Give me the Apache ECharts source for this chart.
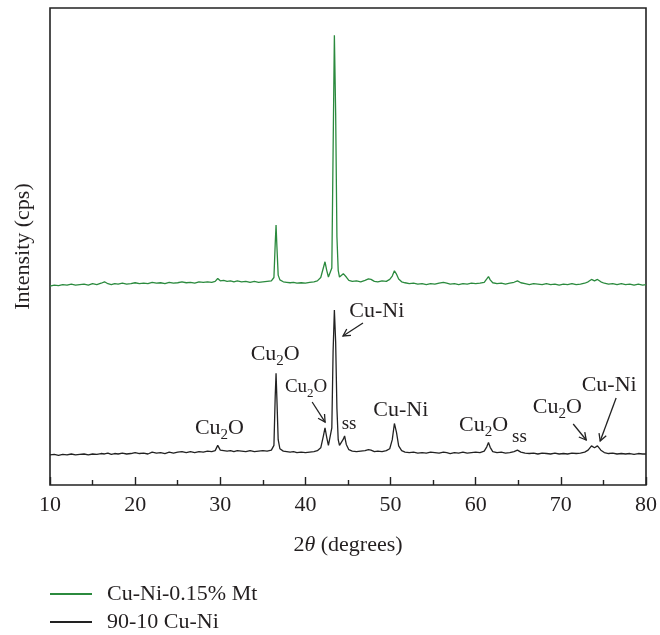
<!DOCTYPE html>
<html>
<head>
<meta charset="utf-8">
<script src="https://cdn.jsdelivr.net/npm/echarts@6/dist/echarts.min.js"></script>
<style>
html,body{margin:0;padding:0;background:#fff;}
#chart{width:660px;height:635px;}
</style>
</head>
<body>
<div id="chart"></div>
<script>
// 2θ positions (degrees)
const twoTheta = [
10.0,10.5,11.0,11.5,12.0,12.5,13.0,13.5,14.0,14.5,15.0,15.5,16.0,16.4,16.8,17.2,17.6,18.0,18.5,19.0,
19.5,20.0,20.5,21.0,21.5,22.0,22.5,23.0,23.5,24.0,24.5,25.0,25.5,26.0,26.5,27.0,27.5,28.0,28.5,29.0,
29.4,29.7,30.0,30.4,30.8,31.2,31.6,32.0,32.5,33.0,33.5,34.0,34.5,35.0,35.5,36.0,36.3,36.45,36.55,36.65,
36.8,37.0,37.4,37.8,38.2,38.6,39.0,39.5,40.0,40.5,41.0,41.4,41.8,42.1,42.3,42.5,42.7,42.9,43.1,43.25,
43.4,43.55,43.7,43.85,44.0,44.2,44.45,44.6,44.8,45.1,45.5,46.0,46.5,47.0,47.4,47.7,48.1,48.5,49.0,49.5,
49.9,50.2,50.45,50.7,50.95,51.3,51.7,52.2,52.7,53.2,53.7,54.2,54.7,55.2,55.7,56.2,56.6,57.0,57.5,58.0,
58.5,59.0,59.5,60.0,60.5,61.0,61.3,61.5,61.7,62.0,62.5,63.0,63.5,64.0,64.5,64.9,65.3,65.8,66.3,66.8,
67.3,67.8,68.3,68.8,69.3,69.8,70.3,70.8,71.3,71.8,72.3,72.8,73.2,73.6,73.95,74.3,74.7,75.1,75.6,76.1,
76.6,77.1,77.6,78.1,78.6,79.1,79.6,80.0
];
// Cu-Ni-0.15% Mt (offset trace)
const cuNiMt = [
41.7,41.9,41.8,42.0,41.9,42.1,41.9,42.0,42.1,41.9,42.2,42.0,42.3,42.6,42.2,42.0,42.2,42.1,42.3,42.1,
42.2,42.4,42.2,42.3,42.2,42.5,42.3,42.4,42.2,42.5,42.3,42.4,42.6,42.4,42.5,42.3,42.6,42.5,42.6,42.5,
42.7,43.3,42.8,42.9,42.7,42.8,42.6,42.8,42.6,42.7,42.5,42.7,42.5,42.6,42.7,42.8,43.5,50.5,54.5,50.0,
44.0,43.0,42.6,42.5,42.4,42.5,42.3,42.4,42.3,42.5,42.6,42.8,43.5,45.5,46.8,45.0,43.6,43.5,45.5,70.0,
94.3,78.0,52.0,45.0,43.6,43.4,44.3,44.7,43.6,42.9,42.7,42.8,42.6,42.9,43.2,43.1,42.7,42.6,42.8,42.7,
43.1,43.8,44.9,44.2,43.2,42.6,42.4,42.2,42.3,42.1,42.2,42.0,42.2,42.1,42.3,42.5,42.3,42.1,42.2,42.0,
42.2,42.1,42.3,42.2,42.3,42.5,43.2,43.7,43.0,42.4,42.2,42.3,42.1,42.3,42.5,42.8,42.4,42.2,42.0,42.2,
42.1,42.0,42.2,42.0,42.1,41.9,42.1,42.0,42.2,42.0,42.1,42.3,42.6,43.1,42.8,43.1,42.6,42.3,42.1,42.2,
42.0,42.2,42.0,42.1,41.9,42.1,41.9,42.0
];
// 90-10 Cu-Ni
const cuNi9010 = [
6.3,6.4,6.2,6.4,6.3,6.5,6.3,6.4,6.5,6.3,6.5,6.4,6.6,6.5,6.7,6.4,6.6,6.5,6.7,6.5,
6.6,6.8,6.6,6.7,6.5,6.9,6.7,6.8,6.6,6.9,6.7,6.9,7.0,6.8,7.0,6.8,7.0,6.9,7.1,7.0,
7.2,8.3,7.3,7.2,7.1,7.2,7.0,7.2,7.1,7.0,7.2,7.0,7.1,7.2,7.1,7.3,8.3,18.5,23.4,18.0,
9.5,7.6,7.1,7.0,6.9,7.0,6.8,6.9,6.8,6.9,7.0,7.2,7.8,10.2,12.0,10.0,8.3,8.0,12.0,28.0,
36.7,30.0,16.0,9.5,8.3,8.2,9.6,10.3,8.5,7.4,7.1,7.0,7.1,7.2,7.4,7.3,7.0,7.1,7.0,7.2,
7.6,9.5,12.9,11.0,8.2,7.2,6.9,6.8,6.9,6.7,6.8,6.7,6.9,6.8,6.7,6.9,6.8,6.6,6.8,6.7,
6.9,6.7,6.8,6.9,6.8,7.1,8.0,8.9,7.9,7.0,6.8,6.9,6.7,6.8,7.0,7.3,6.9,6.7,6.6,6.7,
6.5,6.7,6.6,6.5,6.7,6.5,6.6,6.5,6.7,6.6,6.7,6.9,7.3,8.2,7.8,8.2,7.3,6.8,6.6,6.7,
6.5,6.6,6.5,6.6,6.4,6.6,6.5,6.5
];
const seriesNames = ['Cu-Ni-0.15% Mt', '90-10 Cu-Ni'];
const xTicks = [10, 20, 30, 40, 50, 60, 70, 80];

// peak annotations, anchored in data coordinates
const labelText = ['Cu{s|2}O', 'Cu{s|2}O', 'Cu{s|2}O', 'Cu-Ni', 'ss', 'Cu-Ni', 'Cu{s|2}O', 'ss', 'Cu{s|2}O', 'Cu-Ni'];
const labelX    = [29.9, 36.45, 40.08, 48.39, 45.12, 51.2, 60.92, 65.13, 69.58, 75.67];
const labelY    = [11.95, 27.46, 20.55, 36.48, 12.79, 15.72, 12.58, 10.06, 16.35, 20.96];
const labelBig  = [true, true, false, true, false, true, true, false, true, true];
const arrowFrom = [[40.79, 17.4], [46.76, 33.96], [71.45, 12.79], [76.49, 18.24]];
const arrowTo   = [[42.31, 13.2], [44.41, 31.24], [72.98, 9.43], [74.62, 9.22]];

const FONT = '"Liberation Serif", "Times New Roman", serif';
const TXT = '#231f20';
const colors = ['#2b8a3e', '#222222'];

const chart = echarts.init(document.getElementById('chart'), null, {renderer: 'canvas'});

const option = {
  animation: false,
  backgroundColor: '#fff',
  color: colors,
  grid: {left: 50, right: 12, top: 8, bottom: 150, show: true, borderColor: '#222', borderWidth: 1.6, backgroundColor: 'transparent'},
  legend: {
    data: seriesNames,
    orient: 'vertical',
    left: 50,
    top: 583,
    padding: 0,
    itemWidth: 42,
    itemHeight: 12,
    itemGap: 6,
    icon: 'path://M0,5 L42,5 L42,7 L0,7 Z',
    textStyle: {fontFamily: FONT, fontSize: 22, color: TXT, padding: [0, 0, 0, 10]}
  },
  xAxis: {
    type: 'value', min: 10, max: 80, interval: 10,
    name: '2{i|θ} (degrees)',
    nameLocation: 'middle', nameGap: 49,
    nameTextStyle: {fontFamily: FONT, fontSize: 22, color: TXT, rich: {i: {fontFamily: FONT, fontSize: 22, fontStyle: 'italic', color: TXT}}},
    axisLine: {show: false},
    axisTick: {show: true, inside: true, length: 8, lineStyle: {color: '#222', width: 1.4}},
    minorTick: {show: true, splitNumber: 2, length: 5, lineStyle: {color: '#222', width: 1.4}},
    splitLine: {show: false},
    axisLabel: {fontFamily: FONT, fontSize: 22, color: TXT, margin: 9,
      formatter: v => xTicks.includes(v) ? String(v) : ''}
  },
  yAxis: {
    type: 'value', min: 0, max: 100,
    name: 'Intensity (cps)',
    nameLocation: 'middle', nameGap: 16,
    nameTextStyle: {fontFamily: FONT, fontSize: 22, color: TXT},
    axisLine: {show: false}, axisTick: {show: false}, axisLabel: {show: false}, splitLine: {show: false}
  },
  series: [
    {name: seriesNames[0], type: 'line', symbol: 'none', smooth: false,
     lineStyle: {width: 1.3, color: colors[0]}, itemStyle: {color: colors[0]},
     data: twoTheta.map((x, i) => [x, cuNiMt[i]])},
    {name: seriesNames[1], type: 'line', symbol: 'none', smooth: false,
     lineStyle: {width: 1.3, color: colors[1]}, itemStyle: {color: colors[1]},
     data: twoTheta.map((x, i) => [x, cuNi9010[i]])}
  ]
};
chart.setOption(option);

function px(p) { return chart.convertToPixel({gridIndex: 0}, p); }

const graphics = [];
labelText.forEach((t, i) => {
  const p = px([labelX[i], labelY[i]]);
  const fs = labelBig[i] ? 22 : 19;
  graphics.push({
    type: 'text', x: p[0], y: p[1], silent: true,
    style: {
      text: t, fill: TXT, font: fs + 'px ' + FONT,
      align: 'center', verticalAlign: 'middle',
      rich: {s: {fontFamily: FONT, fontSize: Math.round(fs * 0.68), fill: TXT, padding: [Math.round(fs * 0.7), 0, 0, 0]}}
    }
  });
});
arrowFrom.forEach((a, i) => {
  const p1 = px(a), p2 = px(arrowTo[i]);
  const ang = Math.atan2(p2[1] - p1[1], p2[0] - p1[0]);
  const L = 8, spread = 0.5;
  const h1 = [p2[0] - L * Math.cos(ang - spread), p2[1] - L * Math.sin(ang - spread)];
  const h2 = [p2[0] - L * Math.cos(ang + spread), p2[1] - L * Math.sin(ang + spread)];
  graphics.push({type: 'polyline', silent: true, shape: {points: [p1, p2]}, style: {stroke: '#222', lineWidth: 1.3, fill: null}});
  graphics.push({type: 'polyline', silent: true, shape: {points: [h1, p2, h2]}, style: {stroke: '#222', lineWidth: 1.3, fill: null}});
});
chart.setOption({graphic: graphics});
</script>
</body>
</html>
